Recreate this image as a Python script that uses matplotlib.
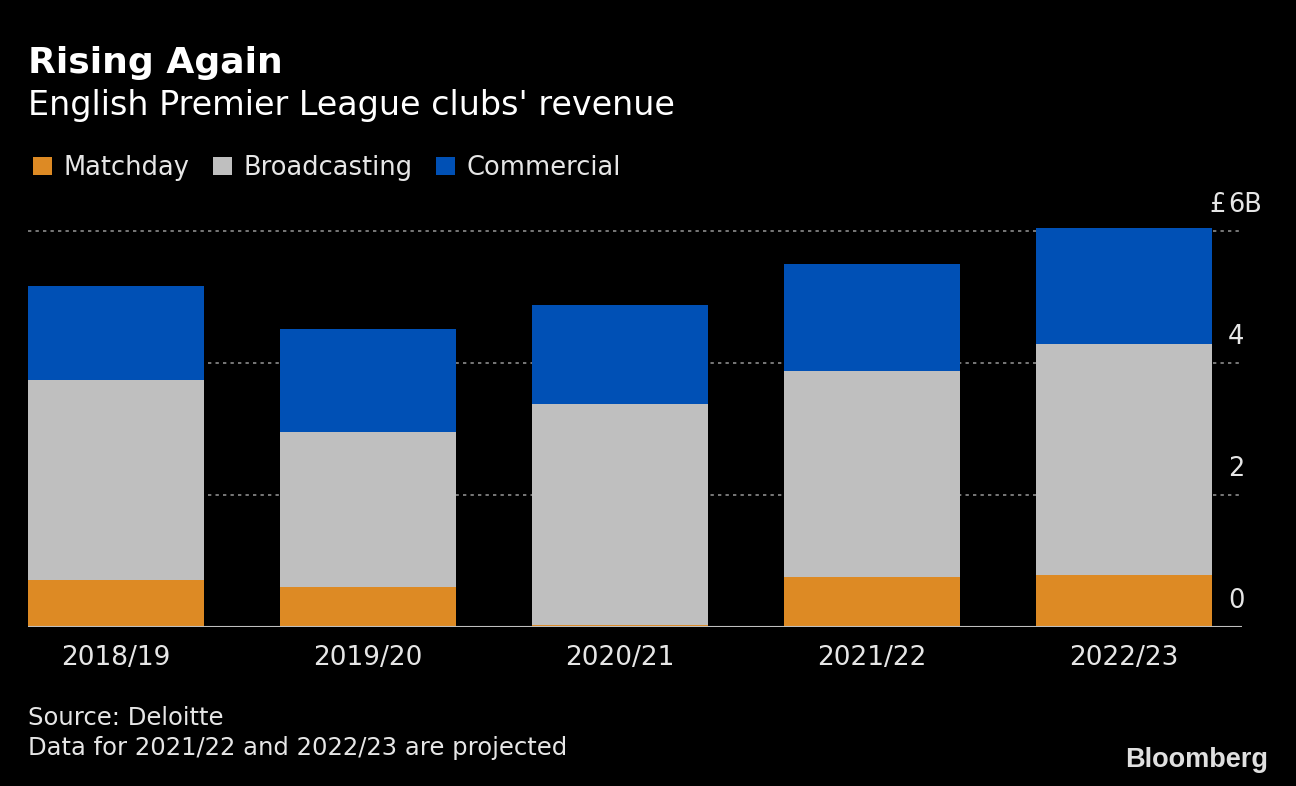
import numpy as np
import matplotlib
matplotlib.use("Agg")
import matplotlib.pyplot as plt

# -------------------- data (GBP billions) --------------------
seasons = ["2018/19", "2019/20", "2020/21", "2021/22", "2022/23"]
matchday = [0.71, 0.61, 0.03, 0.76, 0.79]
broadcasting = [3.03, 2.35, 3.35, 3.12, 3.50]
commercial = [1.42, 1.56, 1.50, 1.62, 1.76]
yticks = [0, 2, 4, 6]
ytick_labels = ["0", "2", "4", "6B"]

BG = "black"
TXT = "#e6e6e6"
C_MATCH = "#dd8a24"
C_BROAD = "#bfbfbf"
C_COMM = "#0050b5"

plt.rcParams["font.family"] = ["DejaVu Sans"]

fig = plt.figure(figsize=(12.96, 7.86), dpi=100, facecolor=BG)
ax = fig.add_axes([28 / 1296, 1 - 627 / 786, 1214 / 1296, 402.6 / 786])
ax.set_facecolor(BG)

x = np.arange(len(seasons))
w = 0.698
m = np.array(matchday)
b = np.array(broadcasting)
c = np.array(commercial)

ax.bar(x, m, w, color=C_MATCH, label="Matchday", zorder=3)
ax.bar(x, b, w, bottom=m, color=C_BROAD, label="Broadcasting", zorder=3)
ax.bar(x, c, w, bottom=m + b, color=C_COMM, label="Commercial", zorder=3)

ax.set_xlim(-0.349, 4.468)
ax.set_ylim(0, 6.1)

# dotted grid + zero line
for yv in yticks[1:]:
    ax.axhline(yv, color="#8c8c8c", lw=1.2, ls=(0, (2, 2.5)), zorder=1)
ax.axhline(0, color="#bfbfbf", lw=1.5, zorder=4)

for s in ax.spines.values():
    s.set_visible(False)
ax.set_yticks([])
ax.set_xticks(x)
ax.set_xticklabels(seasons, color=TXT, fontsize=19)
ax.tick_params(axis="x", length=0, pad=13)

# y labels sit just above the gridlines on the right, digits left-aligned
for yv, lab in zip(yticks, ytick_labels):
    ax.text(4.413, yv + 0.2, lab, color=TXT, fontsize=18.5, ha="left", va="bottom")
ax.text(4.405, yticks[-1] + 0.2, "£", color=TXT, fontsize=18.5, ha="right", va="bottom")

# titles
fig.text(28 / 1296, 1 - 63 / 786, "Rising Again", color="white", fontsize=26,
         fontweight="bold", va="center", ha="left")
fig.text(28 / 1296, 1 - 105 / 786, "English Premier League clubs' revenue", color="white",
         fontsize=24, va="center", ha="left")

leg = fig.legend(loc="center left", bbox_to_anchor=(10 / 1296, 1 - 168 / 786), ncol=3,
                 frameon=False, fontsize=18.5, handlelength=0.75, handleheight=0.75,
                 handletextpad=0.45, columnspacing=0.9, labelcolor=TXT)

# footer
fig.text(28 / 1296, 1 - 718 / 786, "Source: Deloitte", color=TXT, fontsize=17.5,
         va="center", ha="left")
fig.text(28 / 1296, 1 - 748 / 786, "Data for 2021/22 and 2022/23 are projected", color=TXT,
         fontsize=17.5, va="center", ha="left")
fig.text(1268 / 1296, 1 - 760 / 786, "Bloomberg", color="#e0e0e0", fontsize=19.5,
         fontweight="bold", va="center", ha="right", family=["Liberation Sans", "DejaVu Sans"])

fig.savefig("out.png", dpi=100, facecolor=BG)
